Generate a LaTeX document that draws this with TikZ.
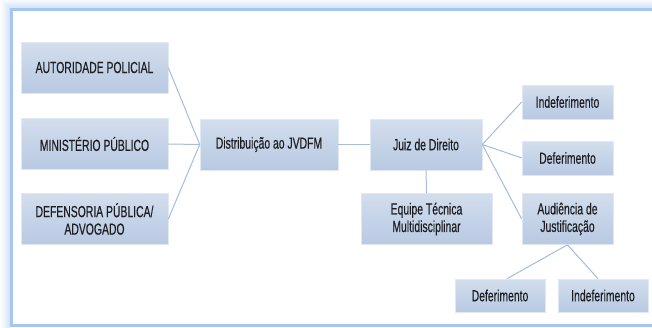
\documentclass[tikz,border=0pt]{standalone}
\usepackage{fontspec}
\setmainfont{Liberation Sans}[FakeStretch=0.65, FakeBold=0.35]
\definecolor{caixaTopo}{RGB}{211,222,237}
\definecolor{caixaBase}{RGB}{184,201,226}
\definecolor{caixaBorda}{RGB}{224,232,243}
\definecolor{linha}{RGB}{166,188,218}
\definecolor{moldura}{RGB}{166,198,240}
\definecolor{texto}{RGB}{30,30,34}
\begin{document}
\begin{tikzpicture}[x=1pt, y=-1pt]
	\tikzstyle{caixa}=[top color=caixaTopo, bottom color=caixaBase, draw=caixaBorda, line width=0.6pt, text=texto, align=center, inner sep=0pt, font=\fontsize{16}{17.5}\selectfont]
	\tikzstyle{ligacao}=[draw, linha, line width=1pt]
	\newcommand\Wesq{147}
	\newcommand\Hgr{51}
	\newcommand\Wpeq{91}
	\newcommand\Hpeq{34}
	\newcommand\Xesq{94.5}
	\newcommand\Xdir{567.5}

	\useasboundingbox (0,0) rectangle (652,327);

	% Moldura
	\foreach \k in {1,...,9}
	{
		\pgfmathsetmacro{\op}{0.5*(1-\k/10)}
		\draw [moldura, line width=1pt, opacity=\op] (10.5-\k, 8.5-\k) rectangle (700, 340);
	}
	\draw [moldura, line width=3pt] (11.5, 9.7) rectangle (700, 325.5);

	% Origem
	\node [caixa, minimum width=\Wesq, minimum height=\Hgr] at (\Xesq, 67.5) (autoridade) {AUTORIDADE POLICIAL};
	\node [caixa, minimum width=\Wesq, minimum height=\Hgr] at (\Xesq, 144) (ministerio) {MINIST\'ERIO P\'UBLICO};
	\node [caixa, minimum width=\Wesq, minimum height=\Hgr] at (\Xesq, 219) (defensoria) {DEFENSORIA P\'UBLICA/\\ADVOGADO};

	% Centro
	\node [caixa, minimum width=138, minimum height=\Hgr] at (269, 144.5) (distribuicao) {Distribui\c{c}\~ao ao JVDFM};
	\node [caixa, minimum width=112, minimum height=\Hgr] at (426, 144.5) (juiz) {Juiz de Direito};
	\node [caixa, minimum width=131, minimum height=\Hgr] at (426.5, 219) (equipe) {Equipe T\'ecnica\\Multidisciplinar};

	% Decisoes
	\node [caixa, minimum width=\Wpeq, minimum height=\Hpeq] at (\Xdir, 102) (indef1) {Indeferimento};
	\node [caixa, minimum width=\Wpeq, minimum height=\Hpeq] at (\Xdir, 158) (def1) {Deferimento};
	\node [caixa, minimum width=\Wpeq, minimum height=\Hgr] at (\Xdir, 219) (audiencia) {Audi\^encia de\\Justifica\c{c}\~ao};
	\node [caixa, minimum width=90, minimum height=33] at (500, 295.5) (def2) {Deferimento};
	\node [caixa, minimum width=90, minimum height=33] at (603, 295.5) (indef2) {Indeferimento};

	% Ligacoes
	\foreach \origem in {autoridade, ministerio, defensoria}
	{
		\path [ligacao] (\origem.east) -- (distribuicao.west);
	}
	\path [ligacao] (distribuicao.east) -- (juiz.west);
	\foreach \destino in {indef1, def1, audiencia}
	{
		\path [ligacao] (juiz.east) -- (\destino.west);
	}
	\path [ligacao] (juiz.south) -- (equipe.north);
	\path [ligacao] (audiencia.south) -- ([xshift=7]def2.north);
	\path [ligacao] (audiencia.south) -- ([xshift=-5]indef2.north);

\end{tikzpicture}
\end{document}
